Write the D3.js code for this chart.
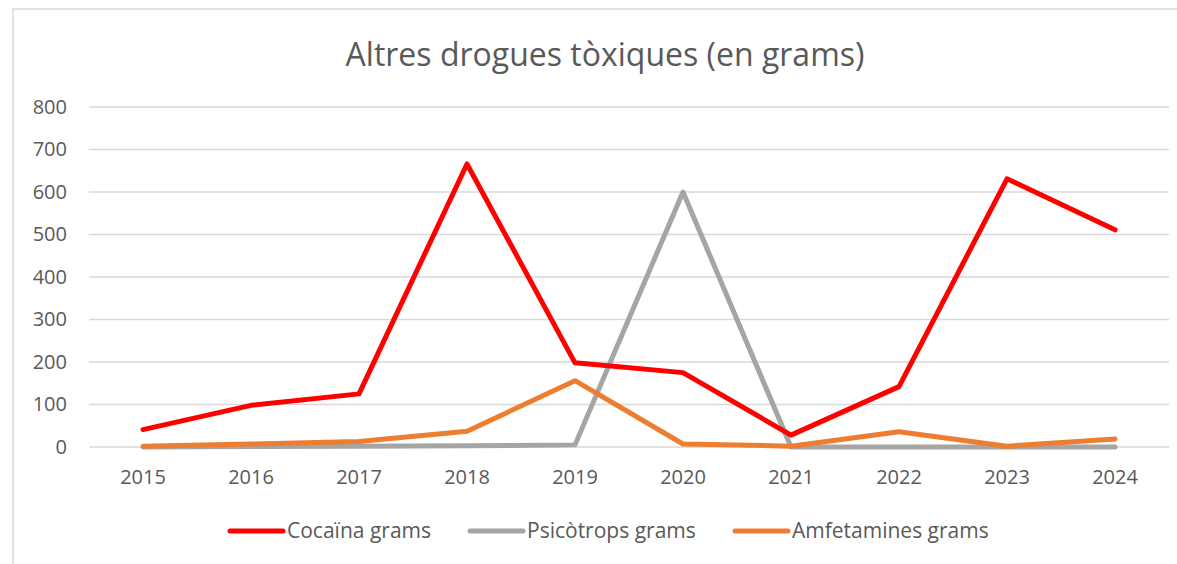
<!DOCTYPE html>
<html><head><meta charset="utf-8">
<script src="https://cdn.jsdelivr.net/npm/d3@7"></script>
<style>body{margin:0;background:#fff}svg{display:block}</style>
</head><body>
<script>
const years = ["2015","2016","2017","2018","2019","2020","2021","2022","2023","2024"];
const cocaina = [41, 98, 125, 666, 198, 175, 28, 142, 631, 511];
const psicotrops = [0, 1, 2, 3, 5, 600, 0, 0, 0, 0];
const amfetamines = [2, 7, 13, 37, 156, 7, 2, 36, 2, 19];
const yTicks = [0, 100, 200, 300, 400, 500, 600, 700, 800];
const seriesNames = ["Cocaïna grams", "Psicòtrops grams", "Amfetamines grams"];
const seriesColors = ["#FF0000", "#A5A5A5", "#ED7D31"];
const title = "Altres drogues tòxiques (en grams)";

const W = 1177, H = 564;
const font = "'Open Sans', sans-serif";
const svg = d3.select("body").append("svg").attr("width", W).attr("height", H);

svg.append("rect").attr("x", 13).attr("y", 9).attr("width", W).attr("height", H)
  .attr("fill", "none").attr("stroke", "#D9D9D9").attr("stroke-width", 1.5);

const x = d3.scaleBand().domain(years).range([89, 1169]);
const y = d3.scaleLinear().domain([0, 800]).range([447, 107]);

svg.append("text").attr("x", 605).attr("y", 66).attr("text-anchor", "middle")
  .attr("font-family", font).attr("font-size", 32).attr("fill", "#595959").text(title);

const grid = svg.append("g");
grid.selectAll("line").data(yTicks).join("line")
  .attr("x1", 89).attr("x2", 1169).attr("y1", d => y(d)).attr("y2", d => y(d))
  .attr("stroke", "#D9D9D9").attr("stroke-width", 1.5);

const yAxis = svg.append("g").attr("transform", "translate(67,0)")
  .call(d3.axisLeft(y).tickValues(yTicks).tickSize(0).tickPadding(0));
yAxis.select(".domain").remove();
yAxis.selectAll("text").attr("font-family", font).attr("font-size", 20).attr("fill", "#595959");

const xAxis = svg.append("g").attr("transform", "translate(0,470)")
  .call(d3.axisBottom(x).tickSize(0).tickPadding(0));
xAxis.select(".domain").remove();
xAxis.selectAll("text").attr("font-family", font).attr("font-size", 20).attr("fill", "#595959");

const all = [cocaina, psicotrops, amfetamines];
const line = d3.line().x((d, i) => x(years[i]) + x.bandwidth() / 2).y(d => y(d));
[1, 0, 2].forEach(k => {
  svg.append("path").datum(all[k]).attr("d", line)
    .attr("fill", "none").attr("stroke", seriesColors[k]).attr("stroke-width", 5)
    .attr("stroke-linejoin", "round").attr("stroke-linecap", "round");
});

const legX = [230, 470, 735];
const leg = svg.append("g");
seriesNames.forEach((n, i) => {
  leg.append("line").attr("x1", legX[i]).attr("x2", legX[i] + 53).attr("y1", 531).attr("y2", 531)
    .attr("stroke", seriesColors[i]).attr("stroke-width", 5).attr("stroke-linecap", "round");
  leg.append("text").attr("x", legX[i] + 57).attr("y", 538)
    .attr("font-family", font).attr("font-size", 21).attr("fill", "#595959").text(n);
});
</script>
</body></html>
